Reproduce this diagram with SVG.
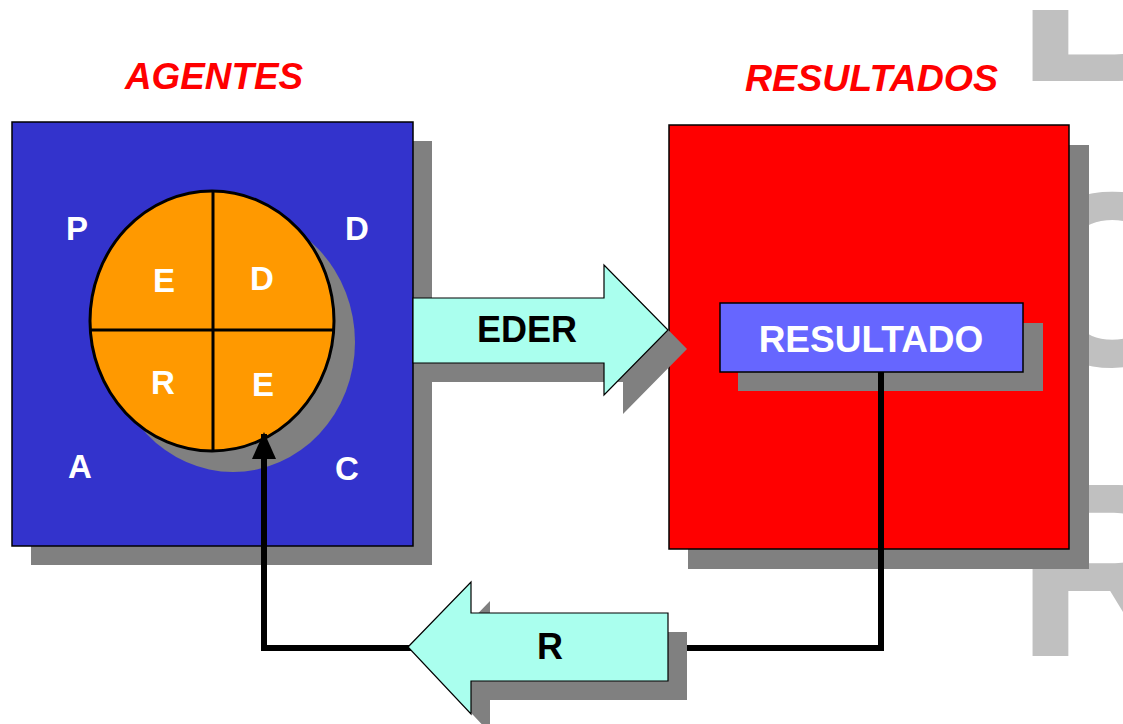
<svg xmlns="http://www.w3.org/2000/svg" width="1123" height="724" viewBox="0 0 1123 724">
  <style>
    text { font-family: "Liberation Sans", Arial, Helvetica, sans-serif; font-weight: bold; }
    .title { fill: #FF0000; font-style: italic; font-size: 37px; }
    .white { fill: #FFFFFF; }
    .shadow { fill: #808080; }
    .box { stroke: #000000; stroke-width: 1.5; }
    .mark { fill: #C0C0C0; font-size: 248px; }
    .block { fill: #AAFFEE; stroke: #000000; stroke-width: 1.2; stroke-linejoin: miter; }
    .lbl { fill: #000000; font-size: 36px; text-anchor: middle; }
    .wire { fill: none; stroke: #000000; stroke-width: 6; stroke-linejoin: miter; }
  </style>
  <defs>
    <marker id="tip" viewBox="0 0 27 24" refX="25" refY="12" markerWidth="27" markerHeight="24" markerUnits="userSpaceOnUse" orient="auto">
      <path d="M0,0 L27,12 L0,24 Z" fill="#000000"/>
    </marker>
    <clipPath id="page-top">
      <rect x="0" y="10" width="1123" height="714"/>
    </clipPath>
  </defs>

  <rect width="1123" height="724" fill="#FFFFFF"/>

  <!-- background watermark letters -->
  <g id="watermark" clip-path="url(#page-top)">
    <text class="mark" x="1016" y="81">B</text>
    <text class="mark" x="1016" y="366">O</text>
    <text class="mark" x="1016" y="656">R</text>
  </g>

  <!-- AGENTES panel -->
  <g id="agentes">
    <text class="title" x="125" y="89" textLength="178" lengthAdjust="spacingAndGlyphs">AGENTES</text>
    <rect class="shadow" x="31" y="141" width="401" height="424"/>
    <rect class="box" x="12" y="122" width="401" height="424" fill="#3333CC"/>
    <text class="white" x="66" y="240" font-size="33">P</text>
    <text class="white" x="345" y="240" font-size="33">D</text>
    <text class="white" x="68" y="478" font-size="33">A</text>
    <text class="white" x="335" y="480" font-size="33">C</text>
  </g>

  <!-- quartered cycle inside AGENTES -->
  <g id="ciclo">
    <ellipse class="shadow" cx="233" cy="342" rx="122" ry="130"/>
    <ellipse cx="212" cy="321" rx="122" ry="130" fill="#FF9900" stroke="#000000" stroke-width="3"/>
    <line x1="213" y1="191" x2="213" y2="451" stroke="#000000" stroke-width="3"/>
    <line x1="90" y1="330" x2="334" y2="330" stroke="#000000" stroke-width="3"/>
    <text class="white" x="164" y="292" font-size="33" text-anchor="middle">E</text>
    <text class="white" x="262" y="290" font-size="33" text-anchor="middle">D</text>
    <text class="white" x="163" y="394" font-size="33" text-anchor="middle">R</text>
    <text class="white" x="263" y="396" font-size="33" text-anchor="middle">E</text>
  </g>

  <!-- RESULTADOS panel -->
  <g id="resultados">
    <text class="title" x="745" y="91" textLength="253" lengthAdjust="spacingAndGlyphs">RESULTADOS</text>
    <rect class="shadow" x="688" y="145" width="401" height="424"/>
    <rect class="box" x="669" y="125" width="400" height="424" fill="#FF0000"/>
  </g>

  <!-- RESULTADO box -->
  <g id="resultado">
    <rect class="shadow" x="738" y="323" width="305" height="68"/>
    <rect class="box" x="720" y="303" width="303" height="69" fill="#6666FF"/>
    <text class="white" x="871" y="352" font-size="37" text-anchor="middle">RESULTADO</text>
  </g>

  <!-- connectors -->
  <g id="connectors">
    <path class="wire" d="M881,372 V648 H264 V434" marker-end="url(#tip)"/>

    <g id="flecha-eder">
      <polygon class="shadow" points="432,317 623,317 623,284 687,349 623,414 623,382 432,382"/>
      <polygon class="block" points="413,298 604,298 604,265 668,330 604,395 604,363 413,363"/>
      <text class="lbl" x="527" y="342">EDER</text>
    </g>

    <g id="flecha-r">
      <polygon class="shadow" points="427,666 490,601 490,632 687,632 687,700 490,700 490,733"/>
      <polygon class="block" points="408,647 471,582 471,613 668,613 668,681 471,681 471,714"/>
      <text class="lbl" x="550" y="659">R</text>
    </g>
  </g>
</svg>
